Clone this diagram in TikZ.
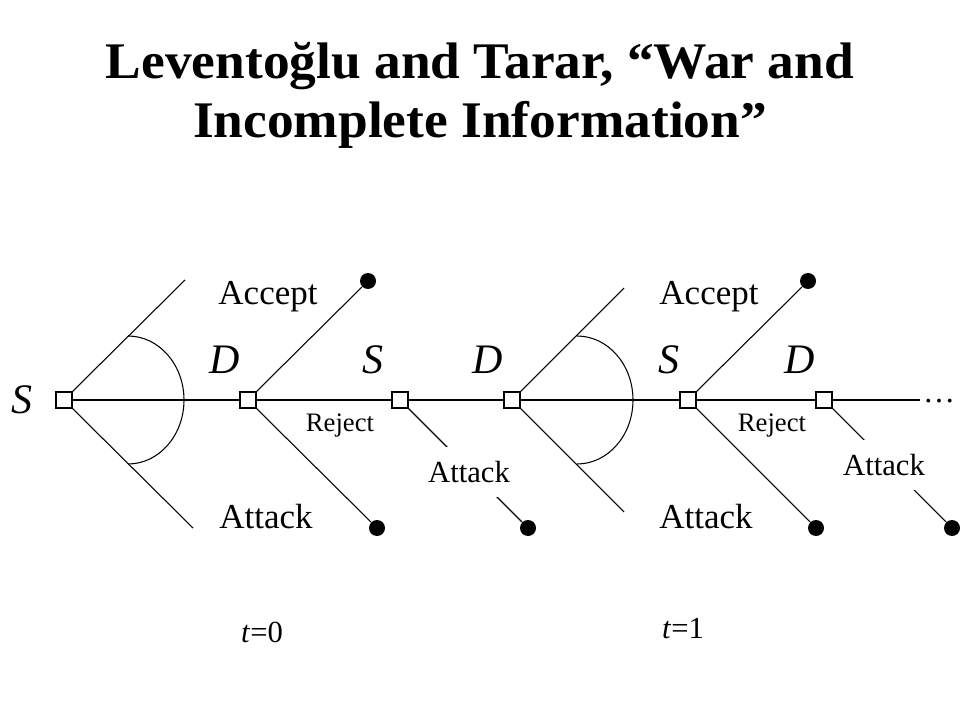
\documentclass[tikz,border=0pt]{standalone}
\usepackage{fontspec}
\setmainfont{Liberation Serif}
\newfontfamily\headfont[FakeStretch=1.04]{Liberation Serif}

\begin{document}
\begin{tikzpicture}
  [x=0.75pt, y=-0.75pt, line width=0.8pt,
  decision/.style={rectangle, draw=black, fill=white, minimum size=12pt, inner sep=0pt},
  outcome/.style={circle, fill=black, minimum size=12pt, inner sep=0pt},
  player/.style={anchor=base, font=\fontsize{31.5}{36}\selectfont\itshape},
  action/.style={anchor=base, font=\fontsize{26.25}{30}\selectfont},
  reply/.style={anchor=base, font=\fontsize{20}{24}\selectfont},
  cut/.style={fill=white, inner sep=0pt, minimum height=37.5pt, font=\fontsize{23}{27}\selectfont},
  period/.style={anchor=base, font=\fontsize{23}{27}\selectfont}]
  \useasboundingbox (0,0) rectangle (960,720);
  \node[align=center, font=\headfont\fontsize{38.5}{44.25}\selectfont\bfseries] (title) at (480,95)
    {Leventoğlu and Tarar, “War and\\ Incomplete Information”};

  \node[decision] (v0) at (64,400) {};
  \node[decision] (v1) at (248,400) {};
  \node[decision] (v2) at (400,400) {};
  \node[decision] (v3) at (512,400) {};
  \node[decision] (v4) at (688,400) {};
  \node[decision] (v5) at (824,400) {};
  \coordinate (tail) at (920,400);
  \draw[line width=1pt] (v0) -- (v1) -- (v2) -- (v3) -- (v4) -- (v5) -- (tail);
  \node[anchor=base, font=\fontsize{24}{28}\selectfont] (more) at (939,402) {…};

  \coordinate (up0) at (185,280);
  \coordinate (lo0) at (193,528);
  \coordinate (up3) at (624,288);
  \coordinate (lo3) at (624,512);
  \node[outcome] (acc1) at (368,281) {};
  \node[outcome] (war1) at (377,528) {};
  \node[outcome] (war2) at (528,528) {};
  \node[outcome] (acc4) at (808,281) {};
  \node[outcome] (war4) at (816,528) {};
  \node[outcome] (war5) at (952,528) {};

  \draw (v0.north east) -- (up0);
  \draw (v0.south east) -- (lo0);
  \draw (v1.north east) -- (acc1);
  \draw (v1.south east) -- (war1);
  \draw (v2.south east) -- (war2);
  \draw (v3.north east) -- (up3);
  \draw (v3.south east) -- (lo3);
  \draw (v4.north east) -- (acc4);
  \draw (v4.south east) -- (war4);
  \draw (v5.south east) -- (war5);
  \draw (128,336) arc[start angle=90, end angle=-90, x radius=42pt, y radius=48pt];
  \draw (577,336) arc[start angle=90, end angle=-90, x radius=42pt, y radius=48pt];

  \node[player] (p0) at (22,413) {S};
  \node[player] (p1) at (225,373) {D};
  \node[player] (p2) at (373,373) {S};
  \node[player] (p3) at (488,373) {D};
  \node[player] (p4) at (669,373) {S};
  \node[player] (p5) at (800,373) {D};

  \node[action] (accept0) at (268,305) {Accept};
  \node[action] (attack0) at (266,528) {Attack};
  \node[action] (accept1) at (709,305) {Accept};
  \node[action] (attack1) at (706,528) {Attack};
  \node[reply] (reject0) at (340,431) {Reject};
  \node[reply] (reject1) at (772,431) {Reject};
  \node[cut] (strike0) at (469,472) {Attack};
  \node[cut] (strike1) at (884,465) {Attack};

  \node[period] (t0) at (262,642) {\textit{t}=0};
  \node[period] (t1) at (683,638) {\textit{t}=1};
\end{tikzpicture}
\end{document}
